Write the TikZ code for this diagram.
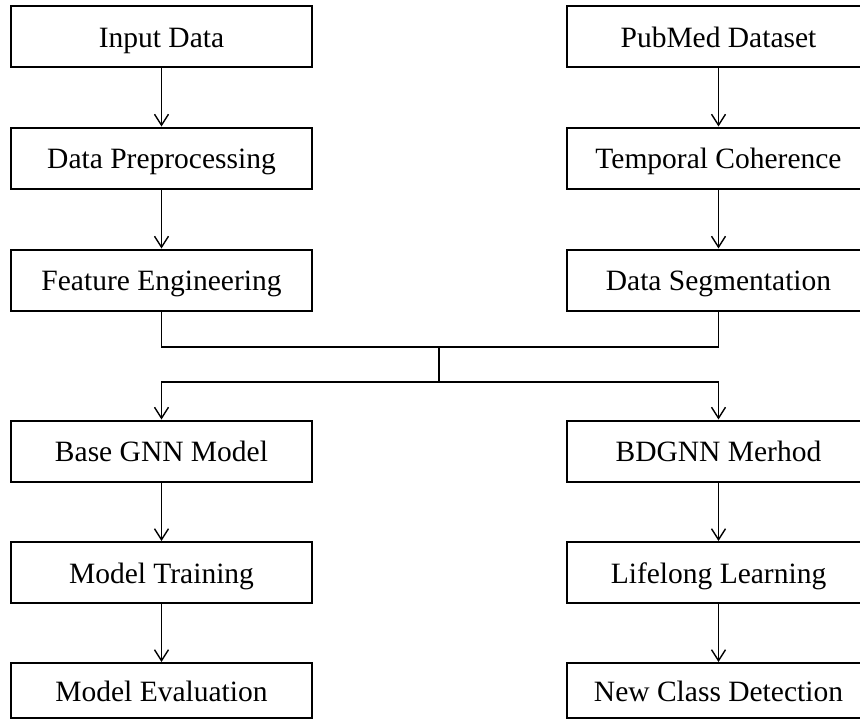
\documentclass[tikz,border=0pt]{standalone}
\usepackage{fontspec}
\setmainfont{Liberation Serif}
\usetikzlibrary{arrows.meta}
\begin{document}
\begin{tikzpicture}[x=1pt,y=-1pt,
 box/.style={draw=black, line width=2pt, minimum width=301pt, minimum height=61pt, inner sep=0pt, text height=27pt, text depth=6pt, font=\fontsize{29.5}{34}\selectfont},
 rbox/.style={box, minimum width=303pt},
 conn/.style={line width=1.4pt, -{Straight Barb[length=11pt,width=14pt,line width=1.4pt]}},
 link/.style={line width=1.6pt}]
\useasboundingbox (0,0) rectangle (860,726);
\clip (0,0) rectangle (860,726);
\fill[white] (0,0) rectangle (860,726);
% left column
\node[box] (in) at (161.5,36.5) {Input Data};
\node[box] (dp) at (161.5,158) {Data Preprocessing};
\node[box] (fe) at (161.5,280) {Feature Engineering};
\node[box] (bg) at (161.5,451) {Base GNN Model};
\node[box] (mt) at (161.5,572.5) {Model Training};
\node[box, minimum height=55pt] (me) at (161.5,690.5) {Model Evaluation};
% right column
\node[rbox] (pm) at (718.5,36.5) {PubMed Dataset};
\node[rbox] (tc) at (718.5,158) {Temporal Coherence};
\node[rbox] (ds) at (718.5,280) {Data Segmentation};
\node[rbox] (bd) at (718.5,451) {BDGNN Merhod};
\node[rbox] (ll) at (718.5,572.5) {Lifelong Learning};
\node[rbox, minimum height=55pt] (nc) at (718.5,690.5) {New Class Detection};
% connectors
\draw[conn] (in) -- (dp);
\draw[conn] (dp) -- (fe);
\draw[conn] (pm) -- (tc);
\draw[conn] (tc) -- (ds);
\draw[conn] (bg) -- (mt);
\draw[conn] (mt) -- (me);
\draw[conn] (bd) -- (ll);
\draw[conn] (ll) -- (nc);
\coordinate (j1) at (439,347);
\coordinate (j2) at (439,382);
\draw[link] (fe.south) |- (j1);
\draw[link] (ds.south) |- (j1);
\draw[link] (j1) -- (j2);
\draw[conn] (j2) -| (bg.north);
\draw[conn] (j2) -| (bd.north);
\end{tikzpicture}
\end{document}
